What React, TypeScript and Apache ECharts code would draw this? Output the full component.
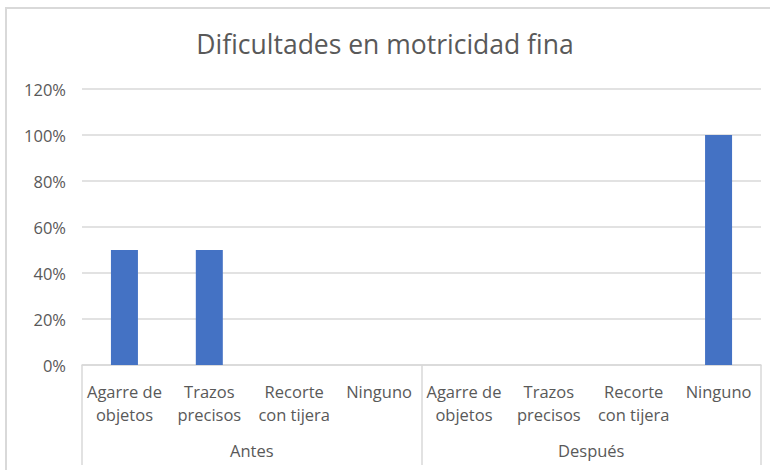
import React, { useEffect, useRef } from "react";
import * as echarts from "echarts";

const titleText = "Dificultades en motricidad fina";
const subCategories = [
  "Agarre de\nobjetos",
  "Trazos\nprecisos",
  "Recorte\ncon tijera",
  "Ninguno",
  "Agarre de\nobjetos",
  "Trazos\nprecisos",
  "Recorte\ncon tijera",
  "Ninguno",
];
const groups = ["Antes", "Después"];
const values = [50, 50, 0, 0, 0, 0, 0, 100];
const yTicks = { min: 0, max: 120, interval: 20 };

const FONT = "'Open Sans', 'Noto Sans', sans-serif";
const TEXT = "#595959";
const LINE = "#d9d9d9";

export default function App() {
  const ref = useRef<HTMLDivElement>(null);
  useEffect(() => {
    if (!ref.current) return;
    const chart = echarts.init(ref.current, undefined, { renderer: "svg" });
    chart.setOption({
      animation: false,
      backgroundColor: "#ffffff",
      textStyle: { fontFamily: FONT },
      title: {
        text: titleText,
        left: "center",
        top: 25,
        textStyle: { fontFamily: FONT, fontSize: 26.5, fontWeight: "normal", color: TEXT },
      },
      graphic: [
        {
          type: "rect",
          shape: { x: 6, y: 8, width: 800, height: 500 },
          style: { fill: "none", stroke: LINE, lineWidth: 2 },
          silent: true,
        },
      ],
      grid: { left: 82, right: 9, top: 89, bottom: 105, containLabel: false },
      xAxis: [
        {
          type: "category",
          data: subCategories,
          position: "bottom",
          axisLine: { show: true, lineStyle: { color: LINE, width: 1.5 } },
          axisTick: { show: false },
          axisLabel: {
            interval: 0,
            margin: 15,
            fontFamily: FONT,
            fontSize: 16.5,
            lineHeight: 23,
            color: TEXT,
          },
        },
        {
          type: "category",
          data: groups,
          position: "bottom",
          offset: 0,
          axisLine: { show: false },
          axisTick: { show: true, length: 100, lineStyle: { color: LINE, width: 1.5 } },
          axisLabel: {
            interval: 0,
            margin: 77,
            fontFamily: FONT,
            fontSize: 16.5,
            color: TEXT,
          },
        },
      ],
      yAxis: {
        type: "value",
        min: yTicks.min,
        max: yTicks.max,
        interval: yTicks.interval,
        axisLine: { show: false },
        axisTick: { show: false },
        splitLine: { lineStyle: { color: LINE, width: 1.5 } },
        axisLabel: {
          formatter: "{value}%",
          margin: 16,
          fontFamily: FONT,
          fontSize: 16.5,
          color: TEXT,
        },
      },
      series: [
        {
          type: "bar",
          data: values,
          xAxisIndex: 0,
          barWidth: 27,
          itemStyle: { color: "#4472C4" },
        },
      ],
    });
    return () => chart.dispose();
  }, []);
  return (
    <div
      ref={ref}
      style={{ position: "fixed", left: 0, top: 0, width: 770, height: 470 }}
    />
  );
}
